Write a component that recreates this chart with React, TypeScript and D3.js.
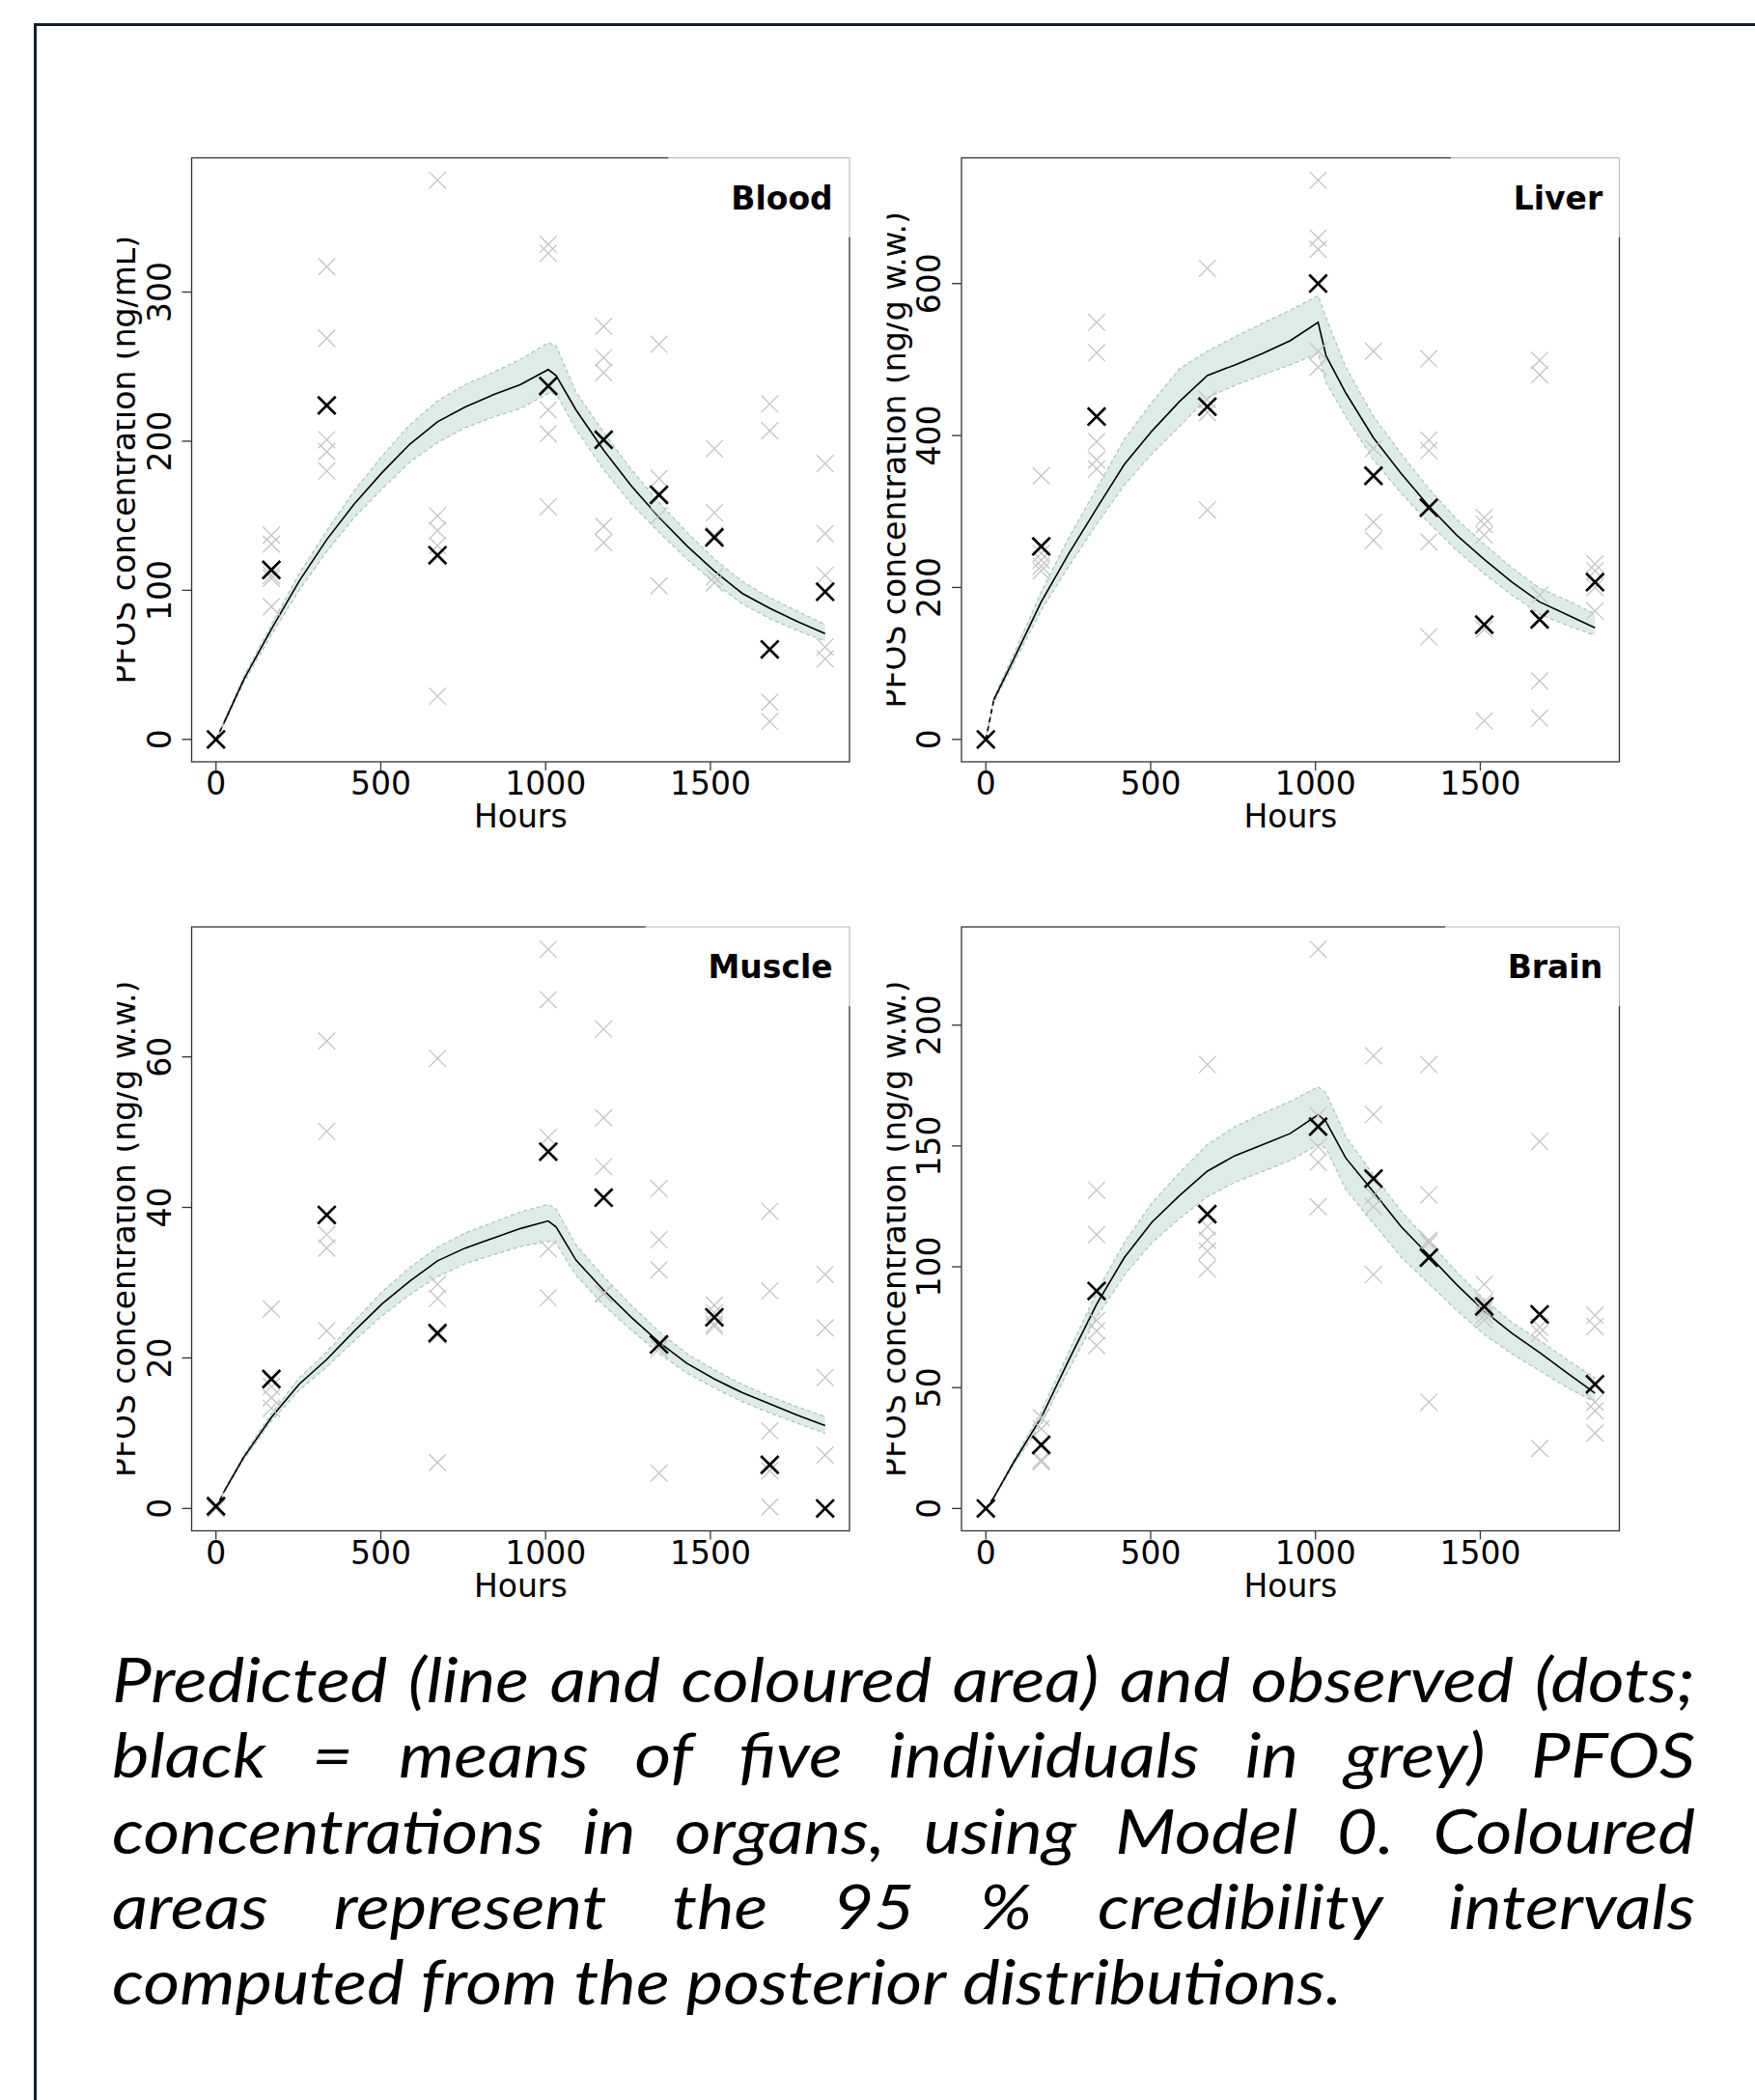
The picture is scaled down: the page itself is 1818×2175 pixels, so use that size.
import React, { useMemo } from 'react';
import * as d3 from 'd3';

// ---------- data ----------
const hours = [0, 168, 336, 672, 1008, 1176, 1344, 1512, 1680, 1848];
const curveHours = [0, 24, 84, 168, 252, 336, 420, 504, 588, 672, 756, 840, 924, 1008, 1032, 1092, 1176, 1260, 1344, 1428, 1512, 1596, 1680, 1764, 1848];
const xTicks = [0, 500, 1000, 1500];

const bloodIndividuals = [
  [0, 0, 0, 0, 0], [137, 131, 110, 108, 89], [317, 269, 201, 193, 180], [375, 150, 140, 130, 29],
  [332, 326, 221, 205, 156], [277, 256, 246, 143, 132], [265, 175, 165, 150, 103],
  [195, 152, 137, 109, 105], [225, 207, 60, 25, 12], [185, 138, 110, 62, 54],
];
const bloodMeans = [0, 113.7, 224, 123.5, 237, 201, 164, 135.4, 60.4, 99];
const bloodMedian = [0, 11, 40, 74, 106, 134, 158, 179, 198, 213, 223, 231, 238, 248, 244, 221, 194, 170, 149, 130, 113, 98, 88, 79, 71];
const bloodLower = [0, 10, 38, 70, 100, 126, 149, 168, 186, 199, 209, 216, 222, 232, 232, 208, 181, 158, 139, 121, 105, 91, 81, 73, 66];
const bloodUpper = [0, 12, 42, 77, 111, 140, 167, 190, 211, 227, 238, 246, 255, 266, 264, 233, 206, 181, 159, 139, 121, 106, 95, 86, 77];
const bloodTicks = [0, 100, 200, 300];

const liverIndividuals = [
  [0, 0, 0, 0, 0], [347, 245, 236, 228, 222], [549, 509, 392, 368, 356], [620, 447, 437, 430, 302],
  [736, 660, 645, 511, 490], [511, 383, 347, 286, 262], [501, 394, 380, 260, 135],
  [292, 283, 269, 145, 24.5], [499, 480, 190, 77, 28], [231, 222, 208, 200, 169],
];
const liverMeans = [0, 254, 425, 438, 600, 347, 305, 151, 158, 207];
const liverMedian = [0, 52, 105, 181, 245, 304, 362, 406, 445, 479, 493, 508, 525, 549, 505, 456, 397, 350, 307, 269, 237, 207, 181, 164, 147];
const liverLower = [0, 49, 99, 170, 228, 283, 335, 376, 412, 450, 466, 480, 493, 508, 470, 425, 368, 324, 285, 249, 218, 190, 165, 150, 137];
const liverUpper = [0, 55, 112, 194, 266, 330, 395, 444, 488, 511, 530, 548, 565, 584, 555, 490, 425, 376, 330, 290, 257, 226, 199, 183, 165];
const liverTicks = [0, 200, 400, 600];

const muscleIndividuals = [
  [0, 0, 0, 0, 0], [26.5, 17.2, 16.2, 14.7, 13.3], [62.1, 50.1, 36.4, 34.6, 23.6], [59.8, 29.8, 27.9, 23, 6.1],
  [74.3, 67.6, 49.3, 34.5, 28], [63.7, 51.9, 45.4, 28.6, 28.5], [42.5, 35.7, 31.7, 21.2, 4.7],
  [27, 26, 25.5, 24.5, 24.2], [39.5, 28.9, 10.3, 5, 0.2], [31.1, 24, 17.4, 7.1, 0],
];
const muscleMeans = [0.3, 17.2, 39, 23.3, 47.4, 41.3, 21.8, 25.4, 5.8, 0];
const muscleMedian = [0, 2.2, 6.8, 12.1, 16.5, 19.8, 23.6, 27.2, 30.2, 32.9, 34.6, 35.9, 37.2, 38.2, 37.4, 33, 29, 25.4, 22.1, 19.3, 17.2, 15.4, 13.9, 12.4, 11];
const muscleLower = [0, 2.1, 6.5, 11.6, 15.7, 18.8, 22.3, 25.6, 28.4, 30.8, 32.5, 33.7, 34.8, 35.5, 35.2, 31, 27, 23.7, 20.6, 18, 16, 14.2, 12.7, 11.3, 10];
const muscleUpper = [0, 2.3, 7.1, 12.6, 17.3, 20.8, 24.9, 28.8, 32, 34.7, 36.6, 38, 39.4, 40.4, 39.8, 35, 30.8, 27, 23.5, 20.6, 18.4, 16.5, 14.9, 13.5, 12.2];
const muscleTicks = [0, 20, 40, 60];

const brainIndividuals = [
  [0, 0, 0, 0, 0], [37.6, 33, 26, 20, 19.3], [131.7, 113.3, 77.7, 73.5, 67.4], [183.7, 116.6, 111, 106.5, 99.2],
  [231.4, 162.5, 149.7, 143.3, 124.9], [187.3, 163, 129.5, 124.9, 96.8], [183.7, 129.8, 111, 110, 44],
  [92.7, 85.4, 82, 80, 78], [151.9, 80, 75, 72.5, 24.8], [79.9, 75.3, 44, 40.4, 31.2],
];
const brainMeans = [0, 26.3, 90, 121.8, 158, 136.5, 103.8, 83.6, 80.3, 51.4];
const brainMedian = [0, 4.5, 19, 37.6, 61.5, 84.5, 103.8, 118.5, 129.5, 139.6, 146, 150.6, 155.2, 162.9, 160, 145, 131, 116.6, 104.7, 92.7, 81.7, 72.5, 64.5, 56, 47.7];
const brainLower = [0, 4.2, 18, 35, 57.5, 79, 96.5, 110, 120, 129, 135, 139.5, 144, 150.6, 149, 132, 118, 104, 93, 82, 72, 64, 57, 50, 44];
const brainUpper = [0, 4.8, 20, 40, 65, 89.5, 110, 126.5, 139, 150.6, 158, 163.5, 168.5, 174.5, 172, 154, 138, 123, 110.5, 98, 86.5, 77, 69.5, 61.5, 54];
const brainTicks = [0, 50, 100, 150, 200];

const captionLines = [
  'Predicted (line and coloured area) and observed (dots;',
  'black = means of five individuals in grey) PFOS',
  'concentrations in organs, using Model 0. Coloured',
  'areas represent the 95 % credibility intervals',
  'computed from the posterior distributions.',
];

// ---------- layout ----------
const BOX_W = 681.5;
const BOX_H = 625.5;
const AXIS_FONT = '"DejaVu Sans", sans-serif';
const CAP_FAMILY = 'Lato';
const CAP_FONT_SIZE = 64;
const CAP_FONT = `italic ${CAP_FONT_SIZE}px "${CAP_FAMILY}"`;

let canvasEl: HTMLCanvasElement | null = null;
function measure(text: string, font: string): number {
  if (!canvasEl) canvasEl = document.createElement('canvas');
  const ctx = canvasEl.getContext('2d')!;
  ctx.font = font;
  return ctx.measureText(text).width;
}

function xPath(cx: number, cy: number, s: number) {
  return `M${cx - s},${cy - s}L${cx + s},${cy + s}M${cx - s},${cy + s}L${cx + s},${cy - s}`;
}

type PanelData = {
  name: string;
  yLabel: string;
  individuals: number[][];
  means: number[];
  median: number[];
  lower: number[];
  upper: number[];
  ticks: number[];
  left: number;
  top: number;
};

function Panel({ p }: { p: PanelData }) {
  const { left, top } = p;
  const right = left + BOX_W;
  const bottom = top + BOX_H;
  const xMax = d3.max(hours)!;
  const x = d3.scaleLinear().domain([-0.04 * xMax, 1.04 * xMax]).range([left, right]);
  const yMax = d3.max(p.individuals.flat())!;
  const y = d3.scaleLinear().domain([-0.04 * yMax, 1.04 * yMax]).range([bottom, top]);

  const idx = curveHours.map((_, i) => i);
  const area = d3.area<number>().x((i) => x(curveHours[i])).y0((i) => y(p.lower[i])).y1((i) => y(p.upper[i]));
  const lineLower = d3.line<number>().x((i) => x(curveHours[i])).y((i) => y(p.lower[i]));
  const lineUpper = d3.line<number>().x((i) => x(curveHours[i])).y((i) => y(p.upper[i]));
  const lineMed = d3.line<number>().x((i) => x(curveHours[i])).y((i) => y(p.median[i]));

  const labelW = measure(p.name, `bold 33px "DejaVu Sans"`);
  const labelRight = right - 17.3;
  const legLeft = labelRight - labelW - 64.7;
  const legH = 82;
  const clipId = `clip-${p.name}`;
  const cy = (top + bottom) / 2;

  return (
    <g>
      <defs>
        <clipPath id={clipId}>
          <rect x={left - 77.5} y={top - 200} width={BOX_W + 200} height={BOX_H + 400} />
        </clipPath>
      </defs>
      {/* band */}
      <path d={area(idx)!} fill="#ddebe9" stroke="none" />
      <path d={lineLower(idx)!} fill="none" stroke="#aac2c1" strokeWidth={1.2} strokeDasharray="4,3" />
      <path d={lineUpper(idx)!} fill="none" stroke="#aac2c1" strokeWidth={1.2} strokeDasharray="4,3" />
      <path d={lineMed(idx.slice(0, 2))!} fill="none" stroke="#000" strokeWidth={1.6} strokeDasharray="5,4" />
      <path d={lineMed(idx.slice(1))!} fill="none" stroke="#000" strokeWidth={1.6} />
      {/* individuals */}
      {p.individuals.map((vals, ti) =>
        vals.map((v, k) => (
          <path key={`g${ti}-${k}`} d={xPath(x(hours[ti]), y(v), 8.8)} stroke="#c4c4c4" strokeWidth={1.3} fill="none" />
        ))
      )}
      {/* means */}
      {p.means.map((v, ti) => (
        <path key={`m${ti}`} d={xPath(x(hours[ti]), y(v), 9.2)} stroke="#000" strokeWidth={2.7} fill="none" />
      ))}
      {/* box */}
      <rect x={left} y={top} width={BOX_W} height={BOX_H} fill="none" stroke="#333" strokeWidth={1.3} />
      {/* legend */}
      <rect x={legLeft} y={top - 1.5} width={right - legLeft + 1.5} height={legH + 1.5} fill="#fff" />
      <path d={`M${legLeft},${top}H${right}V${top + legH}`} fill="none" stroke="#b4b4b4" strokeWidth={1} />
      <text x={labelRight} y={top + 53} textAnchor="end" fontFamily={AXIS_FONT} fontWeight="bold" fontSize={33} fill="#000">
        {p.name}
      </text>
      {/* x axis */}
      {xTicks.map((t) => (
        <g key={`xt${t}`}>
          <line x1={x(t)} x2={x(t)} y1={bottom} y2={bottom + 9} stroke="#333" strokeWidth={1.3} />
          <text x={x(t)} y={bottom + 34} textAnchor="middle" fontFamily={AXIS_FONT} fontSize={33} fill="#000">
            {t}
          </text>
        </g>
      ))}
      <text x={(left + right) / 2} y={bottom + 68} textAnchor="middle" fontFamily={AXIS_FONT} fontSize={33} fill="#000">
        Hours
      </text>
      {/* y axis */}
      {p.ticks.map((t) => (
        <g key={`yt${t}`}>
          <line x1={left - 10} x2={left} y1={y(t)} y2={y(t)} stroke="#333" strokeWidth={1.3} />
          <text
            transform={`translate(${left - 21.8},${y(t)}) rotate(-90)`}
            textAnchor="middle"
            fontFamily={AXIS_FONT}
            fontSize={33}
            fill="#000"
          >
            {t}
          </text>
        </g>
      ))}
      <g clipPath={`url(#${clipId})`}>
        <text
          transform={`translate(${left - 58.5},${cy}) rotate(-90)`}
          textAnchor="middle"
          fontFamily={AXIS_FONT}
          fontSize={33}
          fill="#000"
        >
          {p.yLabel}
        </text>
      </g>
    </g>
  );
}

function Caption() {
  const layout = useMemo(() => {
    const left = 116;
    const full = 1640;
    const targetLast = 1274;
    const lastW = measure(captionLines[4], CAP_FONT);
    const sx = targetLast / lastW;
    const space = measure(' ', CAP_FONT) * sx;
    return captionLines.map((line, li) => {
      const words = line.split(' ');
      const widths = words.map((w) => measure(w, CAP_FONT) * sx);
      const sum = d3.sum(widths);
      const justify = li < captionLines.length - 1;
      const gap = justify ? (full - sum) / (words.length - 1) : space;
      let pos = left;
      return words.map((w, k) => {
        const item = { w, x: pos, len: widths[k] };
        pos += widths[k] + gap;
        return item;
      });
    });
  }, []);
  const baseline0 = 1763;
  const lineStep = 78.3;
  return (
    <g>
      {layout.map((words, li) =>
        words.map((it, k) => (
          <text
            key={`c${li}-${k}`}
            x={it.x}
            y={baseline0 + li * lineStep}
            textLength={it.len}
            lengthAdjust="spacingAndGlyphs"
            fontFamily={`"${CAP_FAMILY}", sans-serif`}
            fontStyle="italic"
            fontSize={CAP_FONT_SIZE}
            fill="#000"
          >
            {it.w}
          </text>
        ))
      )}
    </g>
  );
}

export default function App() {
  const leftX = 198.5;
  const rightX = 996;
  const topY = 163.5;
  const botY = 960;
  const panels: PanelData[] = [
    { name: 'Blood', yLabel: 'PFOS concentration (ng/mL)', individuals: bloodIndividuals, means: bloodMeans, median: bloodMedian, lower: bloodLower, upper: bloodUpper, ticks: bloodTicks, left: leftX, top: topY },
    { name: 'Liver', yLabel: 'PFOS concentration (ng/g w.w.)', individuals: liverIndividuals, means: liverMeans, median: liverMedian, lower: liverLower, upper: liverUpper, ticks: liverTicks, left: rightX, top: topY },
    { name: 'Muscle', yLabel: 'PFOS concentration (ng/g w.w.)', individuals: muscleIndividuals, means: muscleMeans, median: muscleMedian, lower: muscleLower, upper: muscleUpper, ticks: muscleTicks, left: leftX, top: botY },
    { name: 'Brain', yLabel: 'PFOS concentration (ng/g w.w.)', individuals: brainIndividuals, means: brainMeans, median: brainMedian, lower: brainLower, upper: brainUpper, ticks: brainTicks, left: rightX, top: botY },
  ];
  return (
    <>
      <style>{'body{margin:0;background:#fff}'}</style>
      <svg width={1818} height={2175} style={{ display: 'block', background: '#fff' }}>
        <rect x={0} y={0} width={1818} height={2175} fill="#fff" />
        <path d="M36.5,2175V25.5H1818" fill="none" stroke="#15202b" strokeWidth={3} />
        {panels.map((p) => (
          <Panel key={p.name} p={p} />
        ))}
        <Caption />
      </svg>
    </>
  );
}
